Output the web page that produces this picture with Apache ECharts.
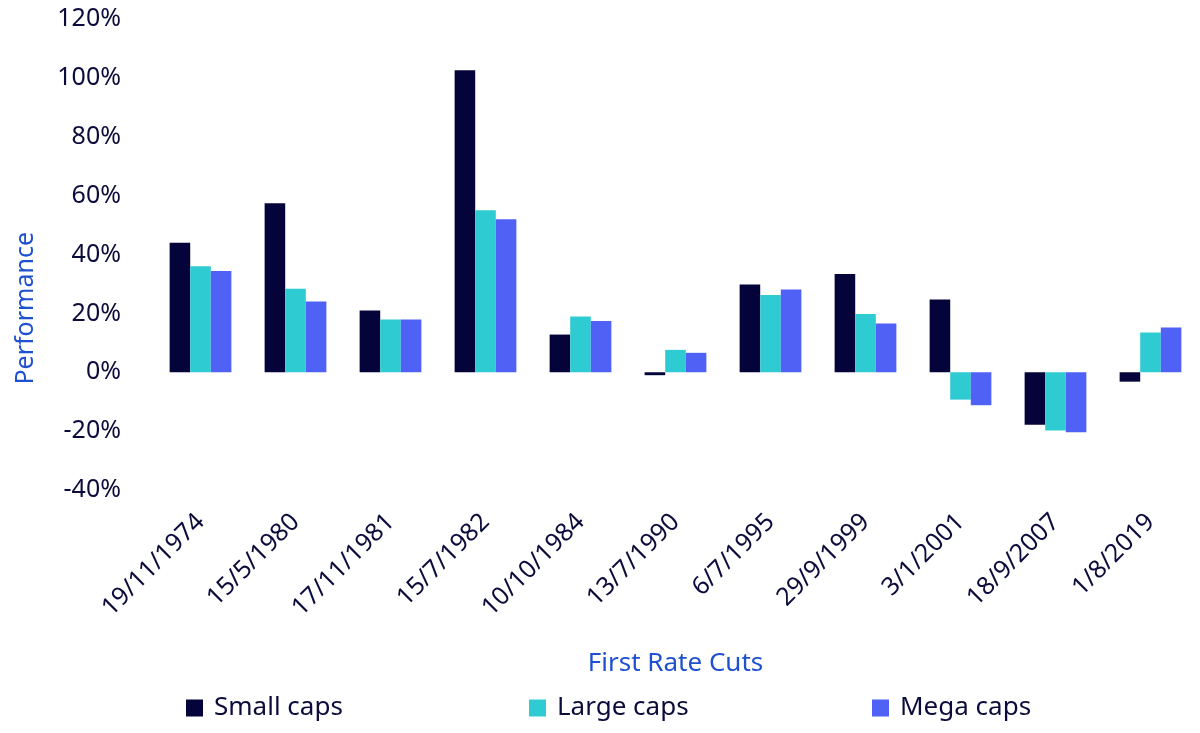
<!DOCTYPE html>
<html>
<head>
<meta charset="utf-8">
<script src="https://cdn.jsdelivr.net/npm/echarts@6/dist/echarts.min.js"></script>
<style>
html,body{margin:0;padding:0;background:#fff;}
#c{width:1200px;height:733px;}
</style>
</head>
<body>
<div id="c"></div>
<script>
var categories = ['19/11/1974','15/5/1980','17/11/1981','15/7/1982','10/10/1984','13/7/1990','6/7/1995','29/9/1999','3/1/2001','18/9/2007','1/8/2019'];
var smallCaps = [44.0, 57.4, 21.0, 102.6, 12.8, -1.0, 29.8, 33.4, 24.7, -17.8, -3.2];
var largeCaps = [36.0, 28.4, 17.9, 55.0, 18.9, 7.6, 26.2, 19.8, -9.3, -19.8, 13.5];
var megaCaps  = [34.4, 24.0, 17.9, 52.0, 17.4, 6.6, 28.1, 16.6, -11.2, -20.4, 15.2];
var seriesNames = ['Small caps','Large caps','Mega caps'];
var colors = ['#04043a','#2ecbd2','#5061f5'];

var FONT = 'Noto Sans';
var textColor = '#0c0c3c';
var blue = '#1f50cf';

var chart = echarts.init(document.getElementById('c'));
var legendLefts = [186, 529, 872];
chart.setOption({
  animation: false,
  textStyle: {fontFamily: FONT},
  grid: {left: 153, right: 2, top: 19, bottom: 243, containLabel: false},
  legend: seriesNames.map(function(n, i){
    return {
      data: [n], left: legendLefts[i], top: 695, padding: 0,
      itemWidth: 17, itemHeight: 17, icon: 'rect',
      textStyle: {fontFamily: FONT, fontSize: 26, color: textColor, padding: [0,0,0,6]}
    };
  }),
  xAxis: {
    type: 'category',
    data: categories,
    name: 'First Rate Cuts',
    nameLocation: 'middle',
    nameGap: 161,
    nameTextStyle: {fontFamily: FONT, fontSize: 26, color: blue},
    axisLine: {show: false, onZero: false},
    axisTick: {show: false},
    axisLabel: {rotate: 45, interval: 0, margin: 28, fontFamily: FONT, fontSize: 25, color: textColor},
    splitLine: {show: false}
  },
  yAxis: {
    type: 'value',
    min: -40, max: 120, interval: 20,
    axisLine: {show: false},
    axisTick: {show: false},
    splitLine: {show: false},
    axisLabel: {formatter: '{value}%', margin: 32, fontFamily: FONT, fontSize: 25, color: textColor}
  },
  graphic: [{
    type: 'text',
    left: 13, top: 232,
    rotation: Math.PI/2,
    style: {text: 'Performance', font: '25px "' + FONT + '"', fill: blue}
  }],
  series: [
    {name: seriesNames[0], type: 'bar', data: smallCaps, barGap: '0%', barCategoryGap: '35%', itemStyle: {color: colors[0]}},
    {name: seriesNames[1], type: 'bar', data: largeCaps, barGap: '0%', barCategoryGap: '35%', itemStyle: {color: colors[1]}},
    {name: seriesNames[2], type: 'bar', data: megaCaps, barGap: '0%', barCategoryGap: '35%', itemStyle: {color: colors[2]}}
  ]
});
</script>
</body>
</html>
